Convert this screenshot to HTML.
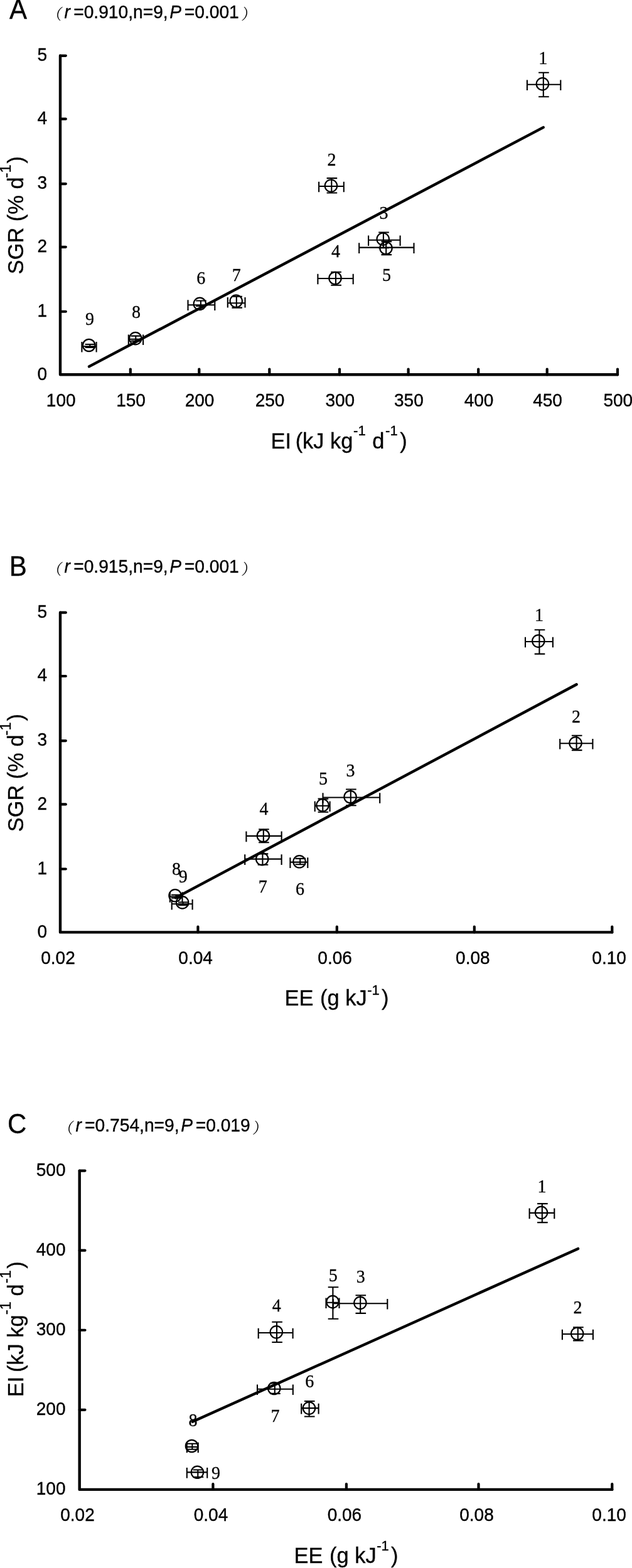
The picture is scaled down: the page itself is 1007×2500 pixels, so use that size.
<!DOCTYPE html>
<html lang="en"><head><meta charset="utf-8"><title>Figure</title>
<style>
html,body{margin:0;padding:0;background:#fff;}
svg{display:block;}
.tk,.tit,.pan,.ax{stroke:#000;stroke-width:0.35px;}
.tk{font-family:'Liberation Sans', Arial, sans-serif;font-size:28px;fill:#000;}
.pt{font-family:'Liberation Serif', 'Times New Roman', serif;font-size:28px;fill:#000;stroke:#000;stroke-width:0.3px;}
.tit{font-family:'Liberation Sans', Arial, sans-serif;font-size:28.2px;fill:#000;}
.tit .it{font-style:italic;}
.par{font-family:'Liberation Serif', 'Noto Serif CJK SC', serif;font-size:24px;fill:#000;}
.pan{font-family:'Liberation Sans', Arial, sans-serif;font-size:42px;fill:#000;}
.ax{font-family:'Liberation Sans', Arial, sans-serif;font-size:34.4px;fill:#000;}
.eb{fill:none;stroke:#000;stroke-width:2.1;stroke-linecap:butt;}
.ci{fill:none;stroke:#000;stroke-width:2.2;}
</style></head><body>
<svg width="1007" height="2500" viewBox="0 0 1007 2500">
<rect width="1007" height="2500" fill="#fff"/>
<g id="panelA">
<text x="14.9" transform="translate(0 29.8) scale(1 1.04)" class="pan">A</text>
<text transform="translate(0 28.9) scale(1 1.04)" class="tit"><tspan class="it" x="102.5">r</tspan><tspan x="117.2">=0.910,n=9,</tspan><tspan class="it" x="270.3">P</tspan><tspan x="293.8">=0.001</tspan></text>
<text transform="translate(74.3 31.4) skewX(-9)" class="par">（</text>
<text transform="translate(383.9 31.4) skewX(-9)" class="par">）</text>
<path d="M96 88.8V597.3H984" fill="none" stroke="#000" stroke-width="4.4" stroke-linejoin="round" stroke-linecap="round"/>
<path d="M207.8 597.3v-8.8M317.3 597.3v-8.8M429.3 597.3v-8.8M541 597.3v-8.8M650.6 597.3v-8.8M762.2 597.3v-8.8M871.7 597.3v-8.8M984 597.3v-8.8M96 496.75h8.8M96 393.85h8.8M96 293.1h8.8M96 189.7h8.8M96 88.8h8.8" fill="none" stroke="#000" stroke-width="4.2" stroke-linecap="round"/>
<text x="75" transform="translate(0 605.5) scale(1 1.05)" text-anchor="end" class="tk">0</text>
<text x="75" transform="translate(0 504.95) scale(1 1.05)" text-anchor="end" class="tk">1</text>
<text x="75" transform="translate(0 402.05) scale(1 1.05)" text-anchor="end" class="tk">2</text>
<text x="75" transform="translate(0 301.3) scale(1 1.05)" text-anchor="end" class="tk">3</text>
<text x="75" transform="translate(0 197.9) scale(1 1.05)" text-anchor="end" class="tk">4</text>
<text x="75" transform="translate(0 97) scale(1 1.05)" text-anchor="end" class="tk">5</text>
<text x="97.2" transform="translate(0 647.8) scale(1 1.05)" text-anchor="middle" class="tk">100</text>
<text x="208.6" transform="translate(0 647.8) scale(1 1.05)" text-anchor="middle" class="tk">150</text>
<text x="318.1" transform="translate(0 647.8) scale(1 1.05)" text-anchor="middle" class="tk">200</text>
<text x="430.1" transform="translate(0 647.8) scale(1 1.05)" text-anchor="middle" class="tk">250</text>
<text x="541.8" transform="translate(0 647.8) scale(1 1.05)" text-anchor="middle" class="tk">300</text>
<text x="651.4" transform="translate(0 647.8) scale(1 1.05)" text-anchor="middle" class="tk">350</text>
<text x="763" transform="translate(0 647.8) scale(1 1.05)" text-anchor="middle" class="tk">400</text>
<text x="872.5" transform="translate(0 647.8) scale(1 1.05)" text-anchor="middle" class="tk">450</text>
<text x="984.8" transform="translate(0 647.8) scale(1 1.05)" text-anchor="middle" class="tk">500</text>
<text transform="translate(37 437.2) rotate(-90) scale(1 1.04)" class="ax"><tspan>SGR (% d</tspan><tspan font-size="23.5" dx="-1" dy="-19">-1</tspan><tspan dx="2" dy="19">)</tspan></text>
<text x="431.5" transform="translate(0 714.7) scale(1 1.04)" class="ax"><tspan>EI</tspan><tspan dx="-2.9"> (kJ kg</tspan><tspan font-size="22" dx="0.7" dy="-19.5">-1</tspan><tspan dx="1" dy="19.5"> d</tspan><tspan font-size="22" dx="1.8" dy="-19.5">-1</tspan><tspan dx="3.7" dy="19.5">)</tspan></text>
<path d="M142 584.4L865.7 203.1" fill="none" stroke="#000" stroke-width="4.4" stroke-linecap="round"/>
<path d="M839.9 134.7H893.3M839.9 127.4v16.6M893.3 127.4v16.6M865.8 115.7V154.3M858.1 115.7h16.6M858.1 154.3h16.6" class="eb"/>
<circle cx="864.4" cy="133.9" r="9.7" class="ci"/>
<text x="865.3" transform="translate(0 102) scale(1 1.04)" text-anchor="middle" class="pt">1</text>
<path d="M508.1 297H547.8M508.1 289.7v16.6M547.8 289.7v16.6M528.3 284.1V307.5M520.6 284.1h16.6M520.6 307.5h16.6" class="eb"/>
<circle cx="527.4" cy="296.2" r="9.7" class="ci"/>
<text x="528.5" transform="translate(0 263.5) scale(1 1.04)" text-anchor="middle" class="pt">2</text>
<path d="M587.1 382.8H637.6M587.1 375.5v16.6M637.6 375.5v16.6M610.9 370.5V395.1M603.2 370.5h16.6M603.2 395.1h16.6" class="eb"/>
<circle cx="610.2" cy="381.2" r="9.7" class="ci"/>
<text x="611.5" transform="translate(0 349) scale(1 1.04)" text-anchor="middle" class="pt">3</text>
<path d="M572.2 394.6H659.5M572.2 387.3v16.6M659.5 387.3v16.6M615.2 385.1V406.1M607.5 385.1h16.6M607.5 406.1h16.6" class="eb"/>
<circle cx="615" cy="395.5" r="9.7" class="ci"/>
<text x="616" transform="translate(0 448.3) scale(1 1.04)" text-anchor="middle" class="pt">5</text>
<path d="M506.4 444H562.7M506.4 436.7v16.6M562.7 436.7v16.6M535 433.7V454.7M527.3 433.7h16.6M527.3 454.7h16.6" class="eb"/>
<circle cx="534" cy="443.5" r="9.7" class="ci"/>
<text x="535" transform="translate(0 410) scale(1 1.04)" text-anchor="middle" class="pt">4</text>
<path d="M299.5 486.3H342.3M299.5 478.3v16.6M342.3 478.3v16.6M319.9 479.5V487.9M312.2 479.5h16.6M312.2 487.9h16.6" class="eb"/>
<circle cx="318.3" cy="484.4" r="9.7" class="ci"/>
<text x="320.2" transform="translate(0 452.5) scale(1 1.04)" text-anchor="middle" class="pt">6</text>
<path d="M362.8 483.3H390.5M362.8 474v16.6M390.5 474v16.6M376.8 472.7V490.6M369.4 472.7h16.6M369.4 490.6h16.6" class="eb"/>
<circle cx="376.2" cy="480.1" r="9.7" class="ci"/>
<text x="376.8" transform="translate(0 448) scale(1 1.04)" text-anchor="middle" class="pt">7</text>
<path d="M204.8 540.8H228.1M204.8 533.5v16.6M228.1 533.5v16.6M216.3 535.6V543.6M208.6 535.6h16.6M208.6 543.6h16.6" class="eb"/>
<circle cx="215.8" cy="539.6" r="9.7" class="ci"/>
<text x="217" transform="translate(0 507.2) scale(1 1.04)" text-anchor="middle" class="pt">8</text>
<path d="M130.4 552.2H153.6M130.4 544.9v16.6M153.6 544.9v16.6M143.3 549V553.9M135.6 549h16.6M135.6 553.9h16.6" class="eb"/>
<circle cx="141.7" cy="550.5" r="9.7" class="ci"/>
<text x="143" transform="translate(0 518.2) scale(1 1.04)" text-anchor="middle" class="pt">9</text>
</g>
<g id="panelB">
<text x="14.7" transform="translate(0 918.3) scale(1 1.04)" class="pan">B</text>
<text transform="translate(0 913.4) scale(1 1.04)" class="tit"><tspan class="it" x="102.5">r</tspan><tspan x="117.2">=0.915,n=9,</tspan><tspan class="it" x="270.3">P</tspan><tspan x="293.8">=0.001</tspan></text>
<text transform="translate(74.3 915.9) skewX(-9)" class="par">（</text>
<text transform="translate(383.9 915.9) skewX(-9)" class="par">）</text>
<path d="M96 976.7V1486.4H975.3" fill="none" stroke="#000" stroke-width="4.4" stroke-linejoin="round" stroke-linecap="round"/>
<path d="M315.4 1486.4v-8.8M536.8 1486.4v-8.8M755.8 1486.4v-8.8M975.3 1486.4v-8.8M96 1385.5h8.8M96 1282.4h8.8M96 1181.1h8.8M96 1078h8.8M96 976.7h8.8" fill="none" stroke="#000" stroke-width="4.2" stroke-linecap="round"/>
<text x="75" transform="translate(0 1494.6) scale(1 1.05)" text-anchor="end" class="tk">0</text>
<text x="75" transform="translate(0 1393.7) scale(1 1.05)" text-anchor="end" class="tk">1</text>
<text x="75" transform="translate(0 1290.6) scale(1 1.05)" text-anchor="end" class="tk">2</text>
<text x="75" transform="translate(0 1189.3) scale(1 1.05)" text-anchor="end" class="tk">3</text>
<text x="75" transform="translate(0 1086.2) scale(1 1.05)" text-anchor="end" class="tk">4</text>
<text x="75" transform="translate(0 984.9) scale(1 1.05)" text-anchor="end" class="tk">5</text>
<text x="92.5" transform="translate(0 1536.8) scale(1 1.05)" text-anchor="middle" class="tk">0.02</text>
<text x="311.6" transform="translate(0 1536.8) scale(1 1.05)" text-anchor="middle" class="tk">0.04</text>
<text x="533.6" transform="translate(0 1536.8) scale(1 1.05)" text-anchor="middle" class="tk">0.06</text>
<text x="753.3" transform="translate(0 1536.8) scale(1 1.05)" text-anchor="middle" class="tk">0.08</text>
<text x="970.6" transform="translate(0 1536.8) scale(1 1.05)" text-anchor="middle" class="tk">0.10</text>
<text transform="translate(37 1326.2) rotate(-90) scale(1 1.04)" class="ax"><tspan>SGR (% d</tspan><tspan font-size="23.5" dx="-1" dy="-19">-1</tspan><tspan dx="2" dy="19">)</tspan></text>
<text x="453.5" transform="translate(0 1603.2) scale(1 1.04)" class="ax"><tspan>EE</tspan><tspan dx="1.2"> (g kJ</tspan><tspan font-size="22" dx="0.6" dy="-16.5">-1</tspan><tspan dx="3.2" dy="16.5">)</tspan></text>
<path d="M280 1431.4L918.6 1091.3" fill="none" stroke="#000" stroke-width="4.4" stroke-linecap="round"/>
<path d="M837 1023H880.9M837 1015.7v16.6M880.9 1015.7v16.6M859.4 1004.3V1042.6M851.7 1004.3h16.6M851.7 1042.6h16.6" class="eb"/>
<circle cx="857.8" cy="1022.1" r="9.7" class="ci"/>
<text x="859" transform="translate(0 989.7) scale(1 1.04)" text-anchor="middle" class="pt">1</text>
<path d="M892.2 1185.3H944.4M892.2 1178v16.6M944.4 1178v16.6M918.6 1172.7V1196.1M910.9 1172.7h16.6M910.9 1196.1h16.6" class="eb"/>
<circle cx="917" cy="1184.8" r="9.7" class="ci"/>
<text x="918" transform="translate(0 1152.1) scale(1 1.04)" text-anchor="middle" class="pt">2</text>
<path d="M514.5 1271.5H605.2M514.5 1264.2v16.6M605.2 1264.2v16.6M558.8 1258.5V1284.3M551.1 1258.5h16.6M551.1 1284.3h16.6" class="eb"/>
<circle cx="558.1" cy="1270.5" r="9.7" class="ci"/>
<text x="558.5" transform="translate(0 1237.5) scale(1 1.04)" text-anchor="middle" class="pt">3</text>
<path d="M501.7 1284.8H525.6M501.7 1277.5v16.6M525.6 1277.5v16.6M514.3 1273.6V1294.7M506.6 1273.6h16.6M506.6 1294.7h16.6" class="eb"/>
<circle cx="514" cy="1283.8" r="9.7" class="ci"/>
<text x="515" transform="translate(0 1251.4) scale(1 1.04)" text-anchor="middle" class="pt">5</text>
<path d="M392.4 1332.9H448.6M392.4 1325.6v16.6M448.6 1325.6v16.6M419.8 1322.2V1343.3M412.1 1322.2h16.6M412.1 1343.3h16.6" class="eb"/>
<circle cx="419.4" cy="1332.5" r="9.7" class="ci"/>
<text x="420.5" transform="translate(0 1298.7) scale(1 1.04)" text-anchor="middle" class="pt">4</text>
<path d="M390.2 1369.6H448.6M390.2 1362.3v16.6M448.6 1362.3v16.6M418.4 1361.4V1378.7M410.7 1361.4h16.6M410.7 1378.7h16.6" class="eb"/>
<circle cx="417.7" cy="1369.6" r="9.7" class="ci"/>
<text x="418.8" transform="translate(0 1422.5) scale(1 1.04)" text-anchor="middle" class="pt">7</text>
<path d="M462.4 1374.6H490.3M462.4 1367.3v16.6M490.3 1367.3v16.6M478.2 1368.9V1378.3M470.5 1368.9h16.6M470.5 1378.3h16.6" class="eb"/>
<circle cx="477" cy="1373.8" r="9.7" class="ci"/>
<text x="478" transform="translate(0 1426.6) scale(1 1.04)" text-anchor="middle" class="pt">6</text>
<path d="M270.8 1429.5H290.5M270.8 1422.2v16.6M290.5 1422.2v16.6M280.5 1426.7V1431.7M272.8 1426.7h16.6M272.8 1431.7h16.6" class="eb"/>
<circle cx="279" cy="1427.8" r="9.7" class="ci"/>
<text x="281" transform="translate(0 1395.4) scale(1 1.04)" text-anchor="middle" class="pt">8</text>
<path d="M273.7 1441.3H306.6M273.7 1434v16.6M306.6 1434v16.6M291.5 1438.5V1443.1M283.8 1438.5h16.6M283.8 1443.1h16.6" class="eb"/>
<circle cx="290.6" cy="1438.9" r="9.7" class="ci"/>
<text x="291.8" transform="translate(0 1406.6) scale(1 1.04)" text-anchor="middle" class="pt">9</text>
</g>
<g id="panelC">
<text x="11.9" transform="translate(0 1807) scale(1 1.04)" class="pan">C</text>
<text transform="translate(0 1804.3) scale(1 1.04)" class="tit"><tspan class="it" x="120.4">r</tspan><tspan x="135.1">=0.754,n=9,</tspan><tspan class="it" x="288.2">P</tspan><tspan x="311.7">=0.019</tspan></text>
<text transform="translate(92.2 1806.8) skewX(-9)" class="par">（</text>
<text transform="translate(401.8 1806.8) skewX(-9)" class="par">）</text>
<path d="M126.7 1866.6V2374.9H975.3" fill="none" stroke="#000" stroke-width="4.4" stroke-linejoin="round" stroke-linecap="round"/>
<path d="M339.4 2374.9v-8.8M551.9 2374.9v-8.8M762.5 2374.9v-8.8M975.3 2374.9v-8.8M126.7 2247.82h8.8M126.7 2120.75h8.8M126.7 1993.67h8.8M126.7 1866.6h8.8" fill="none" stroke="#000" stroke-width="4.2" stroke-linecap="round"/>
<text x="104.5" transform="translate(0 2383.1) scale(1 1.05)" text-anchor="end" class="tk">100</text>
<text x="104.5" transform="translate(0 2256.02) scale(1 1.05)" text-anchor="end" class="tk">200</text>
<text x="104.5" transform="translate(0 2128.95) scale(1 1.05)" text-anchor="end" class="tk">300</text>
<text x="104.5" transform="translate(0 2001.88) scale(1 1.05)" text-anchor="end" class="tk">400</text>
<text x="104.5" transform="translate(0 1874.8) scale(1 1.05)" text-anchor="end" class="tk">500</text>
<text x="123.5" transform="translate(0 2425.4) scale(1 1.05)" text-anchor="middle" class="tk">0.02</text>
<text x="336" transform="translate(0 2425.4) scale(1 1.05)" text-anchor="middle" class="tk">0.04</text>
<text x="548.9" transform="translate(0 2425.4) scale(1 1.05)" text-anchor="middle" class="tk">0.06</text>
<text x="759.5" transform="translate(0 2425.4) scale(1 1.05)" text-anchor="middle" class="tk">0.08</text>
<text x="970.6" transform="translate(0 2425.4) scale(1 1.05)" text-anchor="middle" class="tk">0.10</text>
<text transform="translate(36.5 2227.2) rotate(-90) scale(1 1.04)" class="ax"><tspan>EI</tspan><tspan dx="-2.9"> (kJ kg</tspan><tspan font-size="23.5" dx="0.3" dy="-19">-1</tspan><tspan dx="-1" dy="19"> d</tspan><tspan font-size="23.5" dx="1.5" dy="-19">-1</tspan><tspan dx="2.5" dy="19">)</tspan></text>
<text x="468.5" transform="translate(0 2491.5) scale(1 1.04)" class="ax"><tspan>EE</tspan><tspan dx="1.2"> (g kJ</tspan><tspan font-size="22" dx="0.6" dy="-19">-1</tspan><tspan dx="3.2" dy="19">)</tspan></text>
<path d="M306.7 2266.7L921 1990.9" fill="none" stroke="#000" stroke-width="4.4" stroke-linecap="round"/>
<path d="M843.6 1933.9H883.3M843.6 1926.6v16.6M883.3 1926.6v16.6M863.8 1919.1V1949.1M856.1 1919.1h16.6M856.1 1949.1h16.6" class="eb"/>
<circle cx="862.5" cy="1933.3" r="9.7" class="ci"/>
<text x="863.4" transform="translate(0 1901) scale(1 1.04)" text-anchor="middle" class="pt">1</text>
<path d="M895.9 2127H944.9M895.9 2119.7v16.6M944.9 2119.7v16.6M920.8 2116.2V2137.4M913.1 2116.2h16.6M913.1 2137.4h16.6" class="eb"/>
<circle cx="919.7" cy="2126.3" r="9.7" class="ci"/>
<text x="920.6" transform="translate(0 2093.7) scale(1 1.04)" text-anchor="middle" class="pt">2</text>
<path d="M530.8 2078.3H617.3M530.8 2071v16.6M617.3 2071v16.6M574.2 2065.3V2093.9M566.5 2065.3h16.6M566.5 2093.9h16.6" class="eb"/>
<circle cx="573.9" cy="2077.3" r="9.7" class="ci"/>
<text x="574.7" transform="translate(0 2045) scale(1 1.04)" text-anchor="middle" class="pt">3</text>
<path d="M519.5 2076.8H540.5M519.5 2069.5v16.6M540.5 2069.5v16.6M530.4 2052.2V2102.7M522.7 2052.2h16.6M522.7 2102.7h16.6" class="eb"/>
<circle cx="530" cy="2075.6" r="9.7" class="ci"/>
<text x="530.7" transform="translate(0 2043.2) scale(1 1.04)" text-anchor="middle" class="pt">5</text>
<path d="M411.7 2125H466.6M411.7 2117.7v16.6M466.6 2117.7v16.6M441 2107.8V2140M433.3 2107.8h16.6M433.3 2140h16.6" class="eb"/>
<circle cx="440.3" cy="2123.8" r="9.7" class="ci"/>
<text x="440.8" transform="translate(0 2091) scale(1 1.04)" text-anchor="middle" class="pt">4</text>
<path d="M410 2214.7H466.8M410 2207.4v16.6M466.8 2207.4v16.6M437.8 2205.5V2221.9M430.1 2205.5h16.6M430.1 2221.9h16.6" class="eb"/>
<circle cx="436.8" cy="2213.5" r="9.7" class="ci"/>
<text x="438.6" transform="translate(0 2266.9) scale(1 1.04)" text-anchor="middle" class="pt">7</text>
<path d="M480.2 2245.1H507.6M480.2 2237.8v16.6M507.6 2237.8v16.6M492.6 2234V2258.5M484.9 2234h16.6M484.9 2258.5h16.6" class="eb"/>
<circle cx="492.5" cy="2245.1" r="9.7" class="ci"/>
<text x="493.2" transform="translate(0 2212.3) scale(1 1.04)" text-anchor="middle" class="pt">6</text>
<path d="M297.8 2307H315.7M297.8 2299.7v16.6M315.7 2299.7v16.6M306.3 2301.8V2310.7M298.6 2301.8h16.6M298.6 2310.7h16.6" class="eb"/>
<circle cx="305.5" cy="2305.5" r="9.7" class="ci"/>
<text x="307.5" transform="translate(0 2273.7) scale(1 1.04)" text-anchor="middle" class="pt">8</text>
<path d="M297.8 2347.4H330.2M297.8 2340.1v16.6M330.2 2340.1v16.6M315.3 2343.5V2355M307.6 2343.5h16.6M307.6 2355h16.6" class="eb"/>
<circle cx="314.4" cy="2347.3" r="9.7" class="ci"/>
<text x="344" transform="translate(0 2358.2) scale(1 1.04)" text-anchor="middle" class="pt">9</text>
</g>
</svg>
</body></html>
